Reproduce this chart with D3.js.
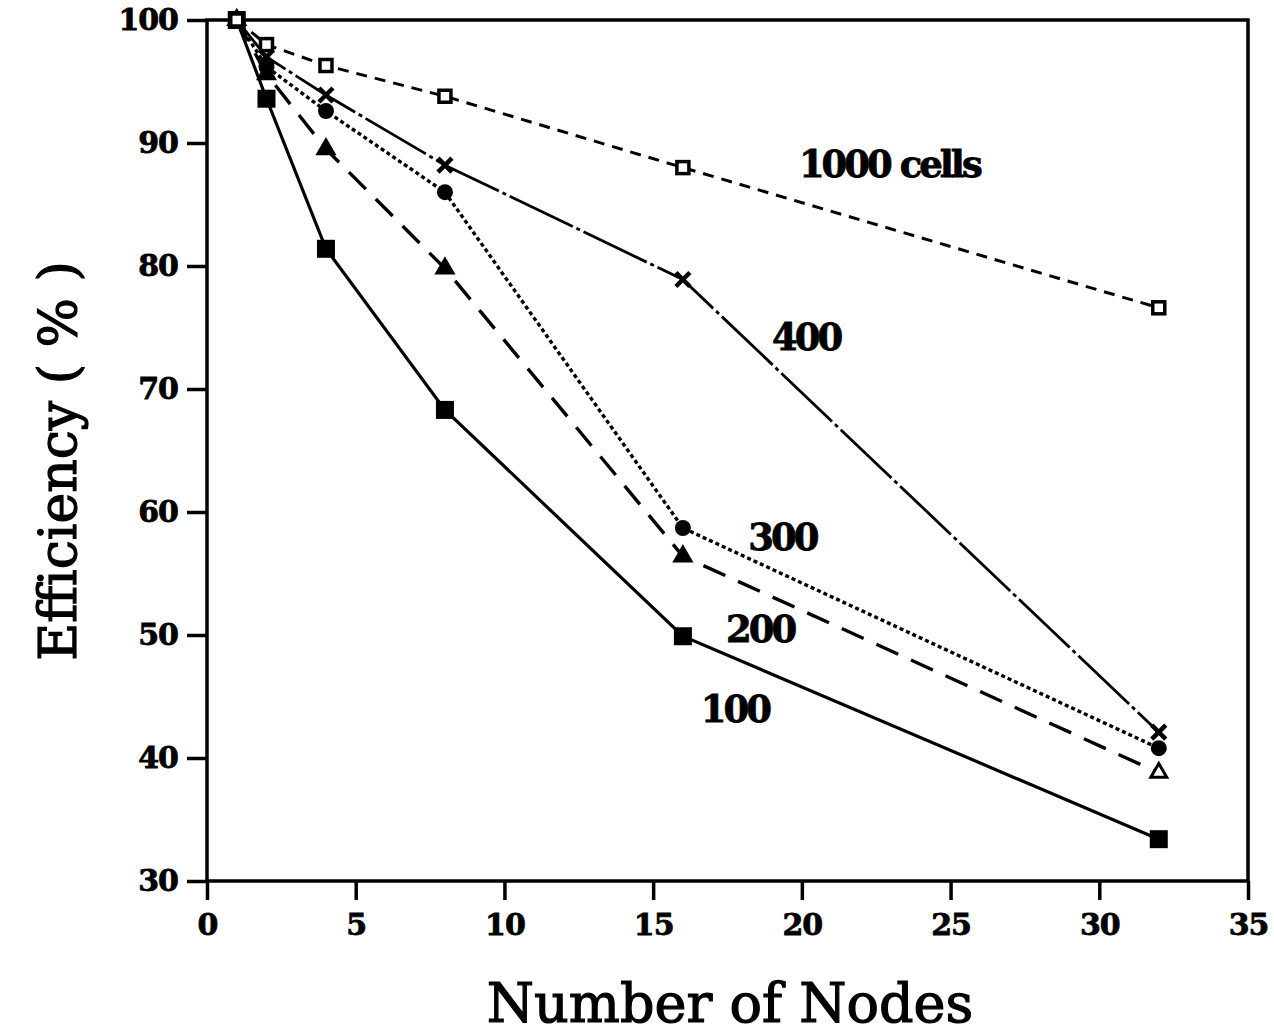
<!DOCTYPE html>
<html>
<head>
<meta charset="utf-8">
<script src="https://cdn.jsdelivr.net/npm/d3@7"></script>
<style>
	body { margin: 0; background: #fff; }
	text { font-family: "DejaVu Serif", "Liberation Serif", serif; fill: #000; }
</style>
</head>
<body>
<svg id="chart" width="1274" height="1034"></svg>
<script>
// data
const nodes = [1, 2, 4, 8, 16, 32];
const eff100 = [100, 93.6, 81.4, 68.3, 49.9, 33.4];
const eff200 = [100, 95.6, 89.5, 79.8, 56.4, 38.8];
const eff300 = [100, 96.2, 92.6, 86.0, 58.7, 40.8];
const eff400 = [100, 97.0, 93.9, 88.2, 78.9, 42.1];
const eff1000 = [100, 98.0, 96.3, 93.8, 88.0, 76.6];
const seriesNames = ['100', '200', '300', '400', '1000 cells'];
const xTicks = [0, 5, 10, 15, 20, 25, 30, 35];
const yTicks = [30, 40, 50, 60, 70, 80, 90, 100];

const svg = d3.select('#chart');
const margin = {left: 207, top: 20, right: 26, bottom: 153};
const width = 1274 - margin.left - margin.right;
const height = 1034 - margin.top - margin.bottom;

const x = d3.scaleLinear().domain([0, 35]).range([0, width]);
const y = d3.scaleLinear().domain([30, 100]).range([height, 0]);

const g = svg.append('g')
	.attr('transform', 'translate(' + margin.left + ',' + margin.top + ')');

// frame
g.append('rect')
	.attr('width', width).attr('height', height)
	.style('fill', 'none').style('stroke', '#000').style('stroke-width', 3.5);

const xAxis = g.append('g')
	.attr('transform', 'translate(0,' + height + ')')
	.call(d3.axisBottom(x).tickValues(xTicks).tickSize(19).tickPadding(14));
const yAxis = g.append('g')
	.call(d3.axisLeft(y).tickValues(yTicks).tickSize(20).tickPadding(9));

[xAxis, yAxis].forEach((ax) => {
	ax.select('.domain').remove();
	ax.selectAll('line').style('stroke', '#000').style('stroke-width', 3.5);
	ax.selectAll('text')
		.style('font-size', '30px')
		.style('font-weight', 'bold')
		.style('letter-spacing', '-1px')
		.style('stroke', '#000').style('stroke-width', 0.8)
		.style('font-family', '"DejaVu Serif", serif');
});

const series = [
	{name: '100', values: eff100, dash: null, width: 3.2, marker: 'fsquare'},
	{name: '200', values: eff200, dash: '24,14', width: 3.4, marker: 'triangle'},
	{name: '300', values: eff300, dash: '4,3', width: 3.4, marker: 'circle'},
	{name: '400', values: eff400, dash: '70,4,4,4', width: 2.8, marker: 'cross'},
	{name: '1000 cells', values: eff1000, dash: '11,8', width: 3, marker: 'osquare'}
];

const line = d3.line()
	.x((d) => x(d[0]))
	.y((d) => y(d[1]));

series.forEach((s) => {
	const pts = nodes.map((n, i) => [n, s.values[i]]);
	g.append('path')
		.datum(pts)
		.attr('d', line)
		.style('fill', 'none')
		.style('stroke', '#000')
		.style('stroke-width', s.width)
		.style('stroke-dasharray', s.dash);

	const mk = g.selectAll('.m' + s.marker)
		.data(pts)
		.enter().append('g')
		.attr('class', 'm' + s.marker)
		.attr('transform', (d) => 'translate(' + x(d[0]) + ',' + y(d[1]) + ')');

	if (s.marker === 'fsquare') {
		mk.append('rect').attr('x', -9).attr('y', -9).attr('width', 18).attr('height', 18)
			.style('fill', '#000');
	} else if (s.marker === 'osquare') {
		mk.append('rect').attr('x', -6).attr('y', -6).attr('width', 12).attr('height', 12)
			.style('fill', '#fff').style('stroke', '#000').style('stroke-width', 3.5);
	} else if (s.marker === 'circle') {
		mk.append('circle').attr('r', 8).style('fill', '#000');
	} else if (s.marker === 'triangle') {
		mk.append('path').attr('d', d3.symbol(d3.symbolTriangle, 110))
			.style('fill', (d) => d[0] === 32 ? '#fff' : '#000')
			.style('stroke', '#000').style('stroke-width', 3);
	} else if (s.marker === 'cross') {
		mk.append('path').attr('d', 'M-7,-7L7,7M7,-7L-7,7')
			.style('stroke', '#000').style('stroke-width', 4.5);
	}
});

// series labels
const labelPos = {
	'100': [16.6, 42.9],
	'200': [17.45, 49.4],
	'300': [18.2, 56.9],
	'400': [19.0, 73.2],
	'1000 cells': [19.9, 87.2]
};
g.selectAll('.series-label')
	.data(seriesNames)
	.enter().append('text')
	.attr('class', 'series-label')
	.attr('x', (d) => x(labelPos[d][0]))
	.attr('y', (d) => y(labelPos[d][1]))
	.style('font-size', '37px')
	.style('font-weight', 'bold')
	.style('letter-spacing', '-3px')
	.style('stroke', '#000').style('stroke-width', 0.8)
	.text((d) => d);

// axis titles
svg.append('text')
	.attr('x', 730)
	.attr('y', 1022)
	.attr('text-anchor', 'middle')
	.style('font-size', '54px')
	.style('stroke', '#000').style('stroke-width', 1.2)
	.text('Number of Nodes');

svg.append('text')
	.attr('transform', 'translate(76,461) rotate(-90)')
	.attr('text-anchor', 'middle')
	.style('font-size', '52px')
	.style('stroke', '#000').style('stroke-width', 1.2)
	.text('Efficiency ( % )');
</script>
</body>
</html>
